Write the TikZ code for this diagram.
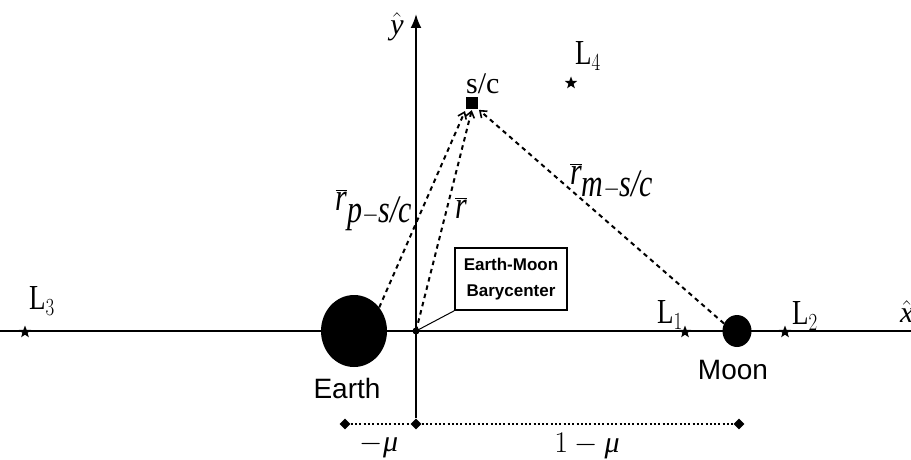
\RequirePackage{fix-cm}
\documentclass[tikz,border=0pt]{standalone}
\usepackage{graphicx}
\usepackage{fontspec}
\setmainfont{Liberation Serif}
\setsansfont{Liberation Sans}
\usetikzlibrary{shapes.geometric,arrows.meta}
\newcommand{\iv}[1]{\textit{#1}}
\newcommand{\tallbox}[1]{\scalebox{1}[1.3]{#1}}
\tikzset{
  body/.style={ellipse,fill=black,inner sep=0pt},
  lstar/.style={star,star points=5,star point ratio=2.4,fill=black,inner sep=0pt,minimum size=13pt},
  dia/.style={diamond,fill=black,inner sep=0pt,minimum width=11pt,minimum height=11pt},
  axis/.style={line width=2pt},
  vec/.style={line width=2pt,dash pattern=on 4.5pt off 4pt,-{Straight Barb[length=6pt,width=9pt,line width=1.6pt]}},
  lbl/.style={font=\fontsize{30}{34}\selectfont,inner sep=0pt},
  llbl/.style={font=\fontsize{27}{31}\selectfont,inner sep=0pt},
  slbl/.style={font=\sffamily\fontsize{28}{32}\selectfont,inner sep=0pt},
  bary/.style={draw,line width=1.6pt,font=\sffamily\bfseries\fontsize{17}{26}\selectfont,align=center,minimum width=112pt,minimum height=62pt,inner sep=2pt}
}
\begin{document}
\begin{tikzpicture}[x=1pt,y=-1pt]
\useasboundingbox (0,0) rectangle (911,460);
% axes
\coordinate (xl) at (0,331);
\coordinate (xr) at (911,331);
\coordinate (ytop) at (416,14);
\coordinate (O) at (416,331);
\draw[axis] (xl) -- (xr);
% bottom distances
\node[dia] (dm) at (345,424) {};
\node[dia] (d0) at (416,424) {};
\node[dia] (d1) at (739,424) {};
\draw[axis,-{Latex[length=14pt,width=11pt]}] (d0) -- (ytop);
\draw[line width=2pt,dash pattern=on 2pt off 2.3pt] (dm) -- (d0) -- (d1);
\node[lbl] (mmu) at (379,446) {$-\iv{μ}$};
\node[lbl] (omu) at (587,446) {$1-\iv{μ}$};
% bodies
\node[body,minimum width=66pt,minimum height=72pt] (earth) at (354,331) {};
\node[body,minimum width=29pt,minimum height=32pt] (moon) at (737,331) {};
\fill (O) circle (3.5pt);
\node[fill=black,minimum size=12pt,inner sep=0pt] (sc) at (472,103) {};
% labels
\node[slbl] (earthl) at (347,388) {Earth};
\node[slbl] (moonl) at (733,370) {Moon};
\node[lbl,anchor=south west] (scl) at (466,94) {s/c};
\node[lbl] (yl) at (397,27) {$\hat{\iv{y}}$};
\node[lbl,anchor=west] (xlab) at (900,312) {$\hat{\iv{x}}$};
% Lagrange points
\node[lstar] (L1) at (685,332) {};
\node[lstar] (L2) at (785,332) {};
\node[lstar] (L3) at (25,332) {};
\node[lstar] (L4) at (571,83) {};
\node[llbl] (L1l) at (670,315) {\tallbox{L$_1$}};
\node[llbl] (L2l) at (805,316) {\tallbox{L$_2$}};
\node[llbl] (L3l) at (42,301) {\tallbox{L$_3$}};
\node[llbl] (L4l) at (588,56) {\tallbox{L$_4$}};
% vectors
\draw[vec,shorten >=2pt] (earth.43) -- (sc.south west);
\draw[vec,shorten >=1pt] (O) -- (sc.south);
\draw[vec,shorten >=1pt] (moon.150) -- (sc.south east);
\node[lbl] (rps) at (374,210) {\tallbox{$\overline{\iv{r}}_{\iv{p}-\iv{s/c}}$}};
\node[lbl] (rr) at (461,208) {\tallbox{$\overline{\iv{r}}$}};
\node[lbl] (rms) at (612,181) {\tallbox{$\overline{\iv{r}}_{\iv{m}-\iv{s/c}}$}};
% barycenter box
\node[bary] (bary) at (511,279) {Earth-Moon\\Barycenter};
\draw[line width=1pt] (bary.south west) -- (O);
\end{tikzpicture}
\end{document}
